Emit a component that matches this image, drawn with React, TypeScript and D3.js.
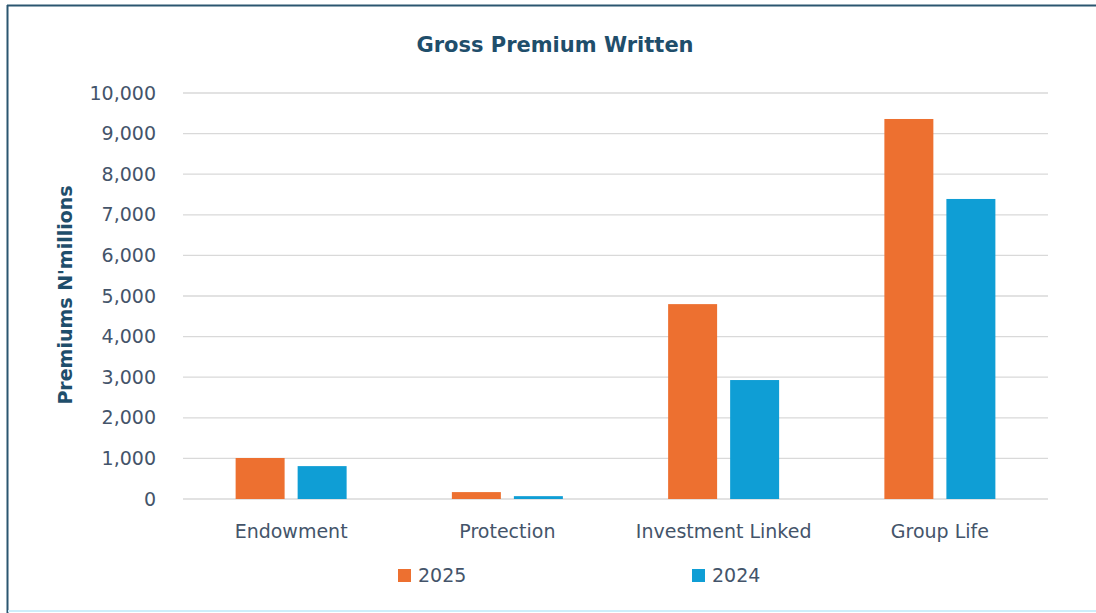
import React from "react";
import * as d3 from "d3";

const categories = ["Endowment", "Protection", "Investment Linked", "Group Life"];
const seriesNames = ["2025", "2024"];
const values2025 = [1010, 170, 4800, 9360];
const values2024 = [810, 70, 2930, 7390];
const yTicks = [0, 1000, 2000, 3000, 4000, 5000, 6000, 7000, 8000, 9000, 10000];
const colors = ["#ed7030", "#0f9ed5"];

const W = 1096;
const H = 613;
const left = 183, right = 1048, top = 93, bottom = 499;

export default function App() {
  const x = d3.scaleBand<string>().domain(categories).range([left, right]).paddingInner(0).paddingOuter(0);
  const inner = d3.scaleBand<string>().domain(seriesNames).range([0, 111]).paddingInner(0.21);
  const y = d3.scaleLinear().domain([0, 10000]).range([bottom, top]);
  const fmt = d3.format(",");
  const series = [values2025, values2024];
  const textColor = "#44546a";
  const font = "'DejaVu Sans', sans-serif";
  return (
    <svg width={W} height={H} style={{ position: "absolute", left: 0, top: 0 }} fontFamily={font}>
      <rect x={0} y={0} width={W} height={H} fill="#ffffff" />
      <line x1={7} x2={W} y1={5.5} y2={5.5} stroke="#2b5670" strokeWidth={2} />
      <line x1={7.5} x2={7.5} y1={5} y2={H} stroke="#2b5670" strokeWidth={2} />
      <line x1={8} x2={W} y1={611} y2={611} stroke="#cdeefa" strokeWidth={2} />
      <text x={555} y={45} dy="0.35em" textAnchor="middle" fontSize={21} fontWeight="bold" fill="#1f4e6b">
        Gross Premium Written
      </text>
      {yTicks.map((t) => (
        <g key={t}>
          <line x1={left} x2={right} y1={y(t)} y2={y(t)} stroke="#d9d9d9" strokeWidth={1.3} />
          <text x={156} y={y(t)} dy="0.35em" textAnchor="end" fontSize={19} fill={textColor}>
            {fmt(t)}
          </text>
        </g>
      ))}
      <text
        transform={`translate(65,${295}) rotate(-90)`}
        dy="0.35em"
        textAnchor="middle"
        fontSize={19}
        fontWeight="bold"
        fill="#1f4e6b"
      >
        Premiums N'millions
      </text>
      {categories.map((c, i) => {
        const x0 = (x(c) as number) + (x.bandwidth() - 111) / 2;
        return (
          <g key={c}>
            {series.map((vals, s) => (
              <rect
                key={s}
                x={x0 + (inner(seriesNames[s]) as number)}
                y={y(vals[i])}
                width={inner.bandwidth()}
                height={bottom - y(vals[i])}
                fill={colors[s]}
              />
            ))}
            <text x={(x(c) as number) + x.bandwidth() / 2} y={531} dy="0.35em" textAnchor="middle" fontSize={19} fill={textColor}>
              {c}
            </text>
          </g>
        );
      })}
      {seriesNames.map((n, s) => {
        const lx = [398, 692][s];
        return (
          <g key={n}>
            <rect x={lx} y={569} width={13} height={13} fill={colors[s]} />
            <text x={lx + 20} y={575.5} dy="0.35em" fontSize={19} fill={textColor}>
              {n}
            </text>
          </g>
        );
      })}
    </svg>
  );
}
